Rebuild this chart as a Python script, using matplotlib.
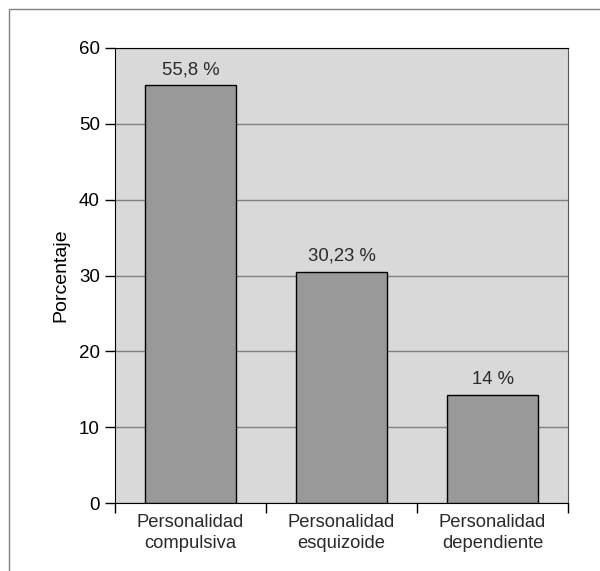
import matplotlib.pyplot as plt
from matplotlib.patches import Rectangle

categories = ["Personalidad\ncompulsiva", "Personalidad\nesquizoide", "Personalidad\ndependiente"]
values = [55.1, 30.5, 14.2]
value_labels = ["55,8 %", "30,23 %", "14 %"]
yticks = [0, 10, 20, 30, 40, 50, 60]

plt.rcParams['font.family'] = ['Liberation Sans', 'DejaVu Sans']

fig = plt.figure(figsize=(6, 5.71), dpi=100)
ax = fig.add_axes([115 / 600, 1 - 503 / 571, 453 / 600, 455 / 571])

# outer frame (only left and top visible in the original)
fig.add_artist(Rectangle((9 / 600, -0.1), 1.2, 1 - 9 / 571 + 0.1, transform=fig.transFigure,
                         fill=False, edgecolor='#808080', linewidth=1))

ax.set_facecolor('#d9d9d9')
x = list(range(len(categories)))
ax.bar(x, values, width=0.6, color='#999999', edgecolor='black', linewidth=1, zorder=3)
for xi, v, lab in zip(x, values, value_labels):
    ax.text(xi, v + 0.9, lab, ha='center', va='bottom', fontsize=13.3, color='#2a2a2a')

ax.set_xlim(-0.5, len(categories) - 0.5)
ax.set_ylim(0, 60)
ax.set_yticks(yticks)
ax.set_yticklabels([str(t) for t in yticks], fontsize=13.5)
ax.yaxis.grid(True, color='#808080', linewidth=1, zorder=0)
ax.set_axisbelow(True)

# category ticks between bars, labels centred under bars
ax.set_xticks([i - 0.5 for i in range(len(categories) + 1)])
ax.set_xticklabels([])
ax.set_xticks(x, minor=True)
ax.set_xticklabels(categories, minor=True, fontsize=13.2, color='#2a2a2a', linespacing=1.3)
ax.tick_params(axis='x', which='minor', length=0, pad=8)
ax.tick_params(axis='x', which='major', length=7, width=1)
ax.tick_params(axis='y', length=7, width=1, pad=4)

for s in ['left', 'bottom', 'top']:
    ax.spines[s].set_color('black')
ax.spines['right'].set_color('#555555')

ax.set_ylabel('Porcentaje', fontsize=14, labelpad=7)

fig.savefig('out.png', dpi=100)
